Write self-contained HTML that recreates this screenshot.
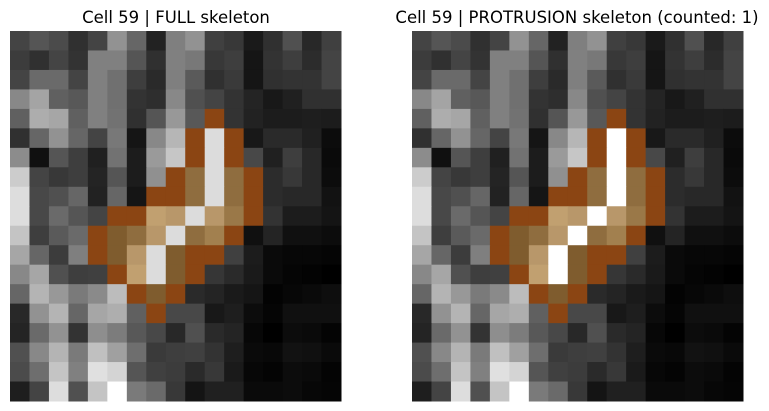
<!DOCTYPE html>
<html><head><meta charset="utf-8"><style>
body{margin:0;background:#fff;width:769px;height:411px;overflow:hidden;font-family:"Liberation Sans","DejaVu Sans",sans-serif}
svg{display:block}
</style></head><body>
<svg id="chart" width="769" height="411" xmlns="http://www.w3.org/2000/svg">
<text x="176" y="23" font-size="16.5" text-anchor="middle" fill="#000" font-family="DejaVu Sans, Liberation Sans, sans-serif">Cell 59 | FULL skeleton</text>
<text x="577" y="23" font-size="16.5" text-anchor="middle" fill="#000" font-family="DejaVu Sans, Liberation Sans, sans-serif">Cell 59 | PROTRUSION skeleton (counted: 1)</text>
<g id="left"></g>
<g id="right"></g>
</svg>
<script>
const rowsData = [
"44 55 4b 30 44 92 66 22 7f 92 40 38 1a 30 50 28 40",
"3c 30 44 33 80 80 55 30 80 78 38 3e 15 33 3e 2c 44",
"44 6a 6a 44 80 70 3e 2a 7f 5a 30 3a 15 30 33 33 44",
"88 a4 60 58 80 70 33 2e 88 50 44 33 24 18 20 30 30",
"60 ad a6 60 80 72 30 55 98 58 B 33 22 1c 1c 1e 1c",
"30 66 92 66 44 78 15 88 b6 B W B 18 2a 2a 20 0c",
"8c 10 55 3e 20 72 1c 9a c6 B W B 48 20 3e 28 0a",
"cc 44 38 3e 24 55 1c 90 B M W M B 2c 38 28 0c",
"dd 48 50 66 22 66 15 B B M W M B 2c 28 28 12",
"dd 48 6a 55 44 B B L L2 W L2 M2 B 33 1c 1c 14",
"c4 3e 5a 6a B D M L2 W M M3 B 10 24 10 10 0c",
"a6 66 3c 7f B D L2 W D B B 40 1c 0a 07 07 05",
"88 a6 50 3e 40 B L W D B 36 2a 1a 0a 05 03 00",
"66 b4 98 7a 8a bc B D B 2a 24 1a 15 03 07 0a 0e",
"28 92 b4 66 a6 ae 60 B 48 48 18 1e 0c 05 10 10 10",
"24 6a 92 33 8e 7c 58 48 28 50 2a 24 07 00 0c 0a 04",
"50 88 b4 7a c0 a0 6e 3a 3e 40 33 1e 0a 08 12 10 0a",
"4b 6e c4 80 e0 d4 55 40 3c 2a 38 1a 07 04 0c 0a 04",
"1e 44 dd 50 c4 ff 7a 6a 38 14 20 20 0a 0a 0c 07 05"
];
const overlayColors = {B:"#8b4513",M:"#8f6d3f",M2:"#9a7848",M3:"#a2804f",D:"#7f5c2e",L:"#c1a070",L2:"#b8976a"};
const skeletonFull = "#dcdcdc";
const skeletonProtrusion = "#ffffff";
const NS="http://www.w3.org/2000/svg";
const nCols=17, nRows=19;
function cellX(x0,c){return x0+c*(331/nCols);}
function cellY(r){return 31+r*(370/nRows);}
function colorOf(tok,wColor){
  if(tok==="W") return wColor;
  if(overlayColors[tok]) return overlayColors[tok];
  return "#"+tok+tok+tok;
}
function draw(gid,x0,wColor){
  const g=document.getElementById(gid);
  rowsData.forEach((row,r)=>{
    row.split(" ").forEach((tok,c)=>{
      const rect=document.createElementNS(NS,"rect");
      const xa=cellX(x0,c), xb=cellX(x0,c+1), ya=cellY(r), yb=cellY(r+1);
      rect.setAttribute("x",xa);
      rect.setAttribute("y",ya);
      rect.setAttribute("width",xb-xa+0.5);
      rect.setAttribute("height",yb-ya+0.5);
      rect.setAttribute("fill",colorOf(tok,wColor));
      
      
      g.appendChild(rect);
    });
  });
}
draw("left",10,skeletonFull);
draw("right",412,skeletonProtrusion);
</script>
</body></html>
